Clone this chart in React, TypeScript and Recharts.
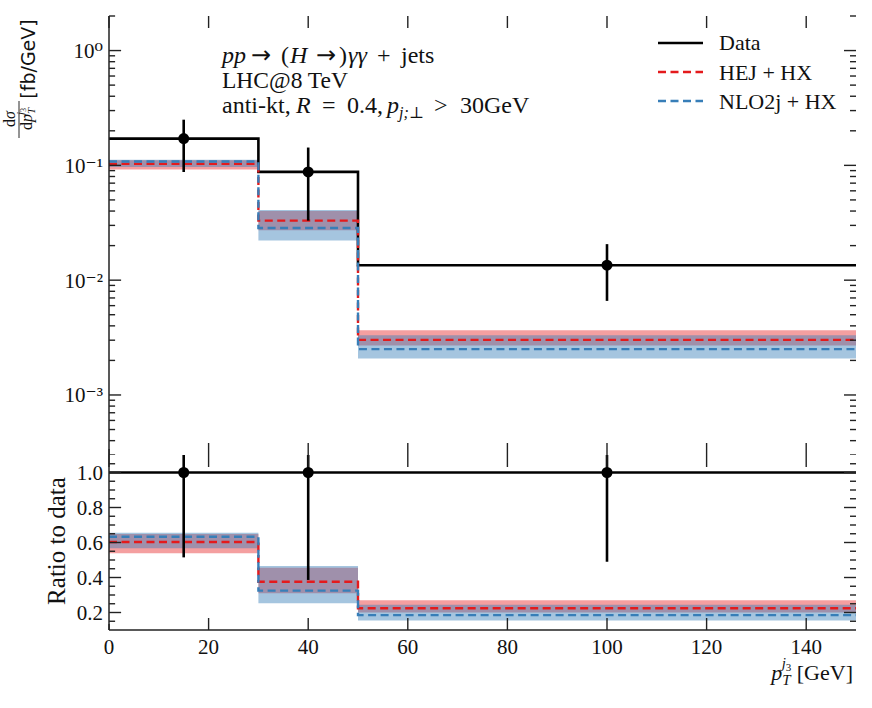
import React from 'react'
import { ComposedChart, Line, Area, Scatter, ErrorBar, XAxis, YAxis } from 'recharts'

// bin edges and centres (GeV)
const binEdges = [0, 30, 50, 150]
const binCentres = [15, 40, 100]

// measured cross section (fb/GeV) with error bar limits
const dataXs = [0.171, 0.0877, 0.0135]
const dataHi = [0.25, 0.143, 0.0206]
const dataLo = [0.0875, 0.033, 0.0066]

// HEJ + HX prediction and scale band
const hejXs = [0.103, 0.033, 0.00302]
const hejLo = [0.092, 0.0272, 0.0027]
const hejHi = [0.111, 0.04, 0.00367]

// NLO2j + HX prediction and scale band
const nloXs = [0.108, 0.0285, 0.00251]
const nloLo = [0.097, 0.0222, 0.00208]
const nloHi = [0.112, 0.0409, 0.00331]

// ratio panel
const dataRatio = [1, 1, 1]
const dataRatioLo = [0.515, 0.386, 0.49]
const dataRatioHi = [1.46, 1.63, 1.53]
const hejRatio = [0.603, 0.376, 0.224]
const hejRatioLo = [0.538, 0.31, 0.2]
const hejRatioHi = [0.648, 0.456, 0.27]
const nloRatio = [0.633, 0.325, 0.185]
const nloRatioLo = [0.567, 0.253, 0.154]
const nloRatioHi = [0.656, 0.466, 0.245]

// ticks
const xTicks = [0, 20, 40, 60, 80, 100, 120, 140]
const logMajor = [1e-3, 1e-2, 1e-1, 1]
const logMantissas = [2, 3, 4, 5, 6, 7, 8, 9]
const logDecades = [1e-4, 1e-3, 1e-2, 1e-1, 1]
const ratioMajor = [0.2, 0.4, 0.6, 0.8, 1.0]
const ratioMinor = [0.15, 0.25, 0.3, 0.35, 0.45, 0.5, 0.55, 0.65, 0.7, 0.75, 0.85, 0.9, 0.95, 1.05]

const RED = '#e41a1c'
const BLUE = '#377eb8'
const FRAME = '#222'
const SERIF = "'Liberation Serif', 'DejaVu Serif', serif"
const ARROW = "'DejaVu Sans', sans-serif"
const TM = 6
const MAJOR = 12
const MINOR = 6
const X_MIN = 0
const X_MAX = 150

const logDomain: [number, number] = [3e-4, 2]
const ratioDomain: [number, number] = [0.1, 1.1]
const logMinor = logDecades.flatMap(d => logMantissas.map(m => m * d)).filter(v => v >= logDomain[0] && v <= logDomain[1])

function stepRows(c: number[], h: number[], hLo: number[], hHi: number[], n: number[], nLo: number[], nHi: number[]) {
  return binEdges.map((x, i) => {
    const k = Math.min(i, c.length - 1)
    return {
      x,
      data: c[k],
      hej: h[k],
      hejBand: [hLo[k], hHi[k]],
      nlo: n[k],
      nloBand: [nLo[k], nHi[k]],
    }
  })
}

const topRows = stepRows(dataXs, hejXs, hejLo, hejHi, nloXs, nloLo, nloHi)
const ratioRows = stepRows(dataRatio, hejRatio, hejRatioLo, hejRatioHi, nloRatio, nloRatioLo, nloRatioHi)

const topPoints = binCentres.map((x, i) => ({ x, y: dataXs[i], err: [dataXs[i] - dataLo[i], dataHi[i] - dataXs[i]] }))
const ratioPoints = binCentres.map((x, i) => ({ x, y: dataRatio[i], err: [dataRatio[i] - dataRatioLo[i], dataRatioHi[i] - dataRatio[i]] }))

const isIn = (arr: number[], v: number) => arr.some(m => Math.abs(m - v) <= 1e-6 * Math.abs(m))

// matplotlib-style inward tick marks, placed through the chart scales.
// Marks sit a hair inside the plot box so they are not lost under the frame.
type Side = 'left' | 'right' | 'top' | 'bottom'
const tickShape = (side: Side, majors: number[]) => (p: any) => {
  const v = side === 'left' || side === 'right' ? p.payload.y : p.payload.x
  const len = isIn(majors, v) ? MAJOR : MINOR
  const cx = Number(p.cx)
  const cy = Number(p.cy)
  let x1 = cx, y1 = cy, x2 = cx, y2 = cy
  if (side === 'left') x2 = cx + len
  else if (side === 'right') x2 = cx - len
  else if (side === 'top') y2 = cy + len
  else y2 = cy - len
  return <line x1={x1} y1={y1} x2={x2} y2={y2} stroke={FRAME} strokeWidth={1.4} />
}

const SUP: Record<string, string> = { '0': '\u2070', '1': '\u00b9', '2': '\u00b2', '3': '\u00b3', '-': '\u207b' }
const fmtLog = (v: number) => '10' + String(Math.round(Math.log10(v))).split('').map(c => SUP[c] ?? c).join('')
const fmtRatio = (v: number) => Number(v).toFixed(1)

const tickText = { fontFamily: SERIF, fontSize: 21, fill: '#111' }
const axisLine = { stroke: FRAME, strokeWidth: 1.5 }
const dash = '8 4.5'

function Panel({ rows, points, yDomain, yMajors, yMinors, log, bottomLabels, width, height, margin, bottomHeight }: any) {
  const yScale = log ? 'log' : 'linear'
  const yAll = [...yMajors, ...yMinors]
  const leftTicks = yAll.map((y: number) => ({ x: X_MIN + 0.02, y }))
  const rightTicks = yAll.map((y: number) => ({ x: X_MAX, y }))
  const bottomTicks = xTicks.map(x => ({ x: x === 0 ? 0.02 : x, y: yDomain[0] }))
  const topTicks = xTicks.map(x => ({ x, y: yDomain[1] }))
  const xCommon = { dataKey: 'x', type: 'number' as const, domain: [X_MIN, X_MAX], ticks: xTicks, interval: 0, stroke: FRAME }
  const yCommon = { type: 'number' as const, scale: yScale, domain: yDomain, interval: 0, stroke: FRAME }
  return (
    <ComposedChart width={width} height={height} margin={margin} data={rows}>
      <XAxis xAxisId="b" {...xCommon} allowDataOverflow orientation="bottom" height={bottomHeight}
        tickSize={0} tickMargin={TM + 3} tickLine={false} axisLine={axisLine} tick={bottomLabels ? tickText : false} />
      <XAxis xAxisId="t" {...xCommon} allowDataOverflow orientation="top" height={0} tickLine={false} axisLine={axisLine} tick={false} />
      <YAxis yAxisId="l" {...yCommon} allowDataOverflow ticks={yMajors} orientation="left" width={109}
        tickSize={0} tickMargin={TM} tickLine={false} axisLine={axisLine}
        tick={tickText} tickFormatter={log ? fmtLog : fmtRatio} />
      <YAxis yAxisId="r" {...yCommon} allowDataOverflow ticks={yMajors} orientation="right" width={0} tickLine={false} axisLine={axisLine} tick={false} />
      <XAxis xAxisId="tx" {...xCommon} hide />
      <YAxis yAxisId="ty" {...yCommon} ticks={yMajors} hide />

      <Area xAxisId="b" yAxisId="l" dataKey="hejBand" type="stepAfter" stroke="none" fill={RED} fillOpacity={0.42} isAnimationActive={false} />
      <Area xAxisId="b" yAxisId="l" dataKey="nloBand" type="stepAfter" stroke="none" fill={BLUE} fillOpacity={0.45} isAnimationActive={false} />
      <Line xAxisId="b" yAxisId="l" dataKey="data" type="stepAfter" stroke="#000" strokeWidth={2.6} dot={false} isAnimationActive={false} />
      <Line xAxisId="b" yAxisId="l" dataKey="hej" type="stepAfter" stroke={RED} strokeWidth={2.4} strokeDasharray={dash} dot={false} isAnimationActive={false} />
      <Line xAxisId="b" yAxisId="l" dataKey="nlo" type="stepAfter" stroke={BLUE} strokeWidth={2.4} strokeDasharray={dash} dot={false} isAnimationActive={false} />
      <Scatter xAxisId="b" yAxisId="l" data={points} dataKey="y" isAnimationActive={false}
        shape={(p: any) => <circle cx={p.cx} cy={p.cy} r={5.5} fill="#000" />}>
        <ErrorBar dataKey="err" direction="y" width={0} stroke="#000" strokeWidth={2.6} />
      </Scatter>

      {/* tick marks on all four sides */}
      <Scatter xAxisId="tx" yAxisId="ty" data={leftTicks} dataKey="y" isAnimationActive={false} shape={tickShape('left', yMajors)} />
      <Scatter xAxisId="tx" yAxisId="ty" data={rightTicks} dataKey="y" isAnimationActive={false} shape={tickShape('right', yMajors)} />
      <Scatter xAxisId="tx" yAxisId="ty" data={topTicks} dataKey="y" isAnimationActive={false} shape={tickShape('top', xTicks)} />
      <Scatter xAxisId="tx" yAxisId="ty" data={bottomTicks} dataKey="y" isAnimationActive={false} shape={tickShape('bottom', xTicks)} />
    </ComposedChart>
  )
}

export default function App() {
  return (
    <div style={{ position: 'absolute', left: 0, top: 0, width: 872, height: 708, background: '#fff' }}>
      <div style={{ position: 'absolute', left: 0, top: 0 }}>
        <Panel rows={topRows} points={topPoints} yDomain={logDomain} yMajors={logMajor} yMinors={logMinor} log
          width={872} height={455} margin={{ top: 16, right: 16, bottom: 0, left: 0 }} bottomHeight={0} />
      </div>
      <div style={{ position: 'absolute', left: 0, top: 455 }}>
        <Panel rows={ratioRows} points={ratioPoints} yDomain={ratioDomain} yMajors={ratioMajor} yMinors={ratioMinor}
          bottomLabels width={872} height={253} margin={{ top: 0, right: 16, bottom: 0, left: 0 }} bottomHeight={78} />
      </div>

      <svg width={872} height={708} style={{ position: 'absolute', left: 0, top: 0, pointerEvents: 'none' }}
        fontFamily={SERIF} fill="#111">
        {/* process annotation */}
        <text y={63} fontSize={24}>
          <tspan x={222} fontStyle="italic">pp</tspan>
          <tspan x={251} fontFamily={ARROW}>→</tspan>
          <tspan x={281}>(</tspan>
          <tspan x={290} fontStyle="italic">H</tspan>
          <tspan x={316} fontFamily={ARROW}>→</tspan>
          <tspan x={339}>)</tspan>
          <tspan x={348} fontStyle="italic">γγ</tspan>
          <tspan x={377}>+</tspan>
          <tspan x={401}>jets</tspan>
        </text>
        <text x={222} y={88} fontSize={23.5}>LHC@8 TeV</text>
        <text y={113} fontSize={24}>
          <tspan x={222}>anti-kt,</tspan>
          <tspan x={296} fontStyle="italic">R</tspan>
          <tspan x={322}>=</tspan>
          <tspan x={347}>0.4,</tspan>
          <tspan x={387} fontStyle="italic">p</tspan>
          <tspan dy={5} fontSize={16} fontStyle="italic">j;⊥</tspan>
          <tspan x={434} dy={-5}>&gt;</tspan>
          <tspan x={460}>30GeV</tspan>
        </text>

        {/* legend */}
        <line x1={658} x2={703} y1={43} y2={43} stroke="#000" strokeWidth={2.6} />
        <text x={719} y={50} fontSize={22}>Data</text>
        <line x1={658} x2={703} y1={72} y2={72} stroke={RED} strokeWidth={2.4} strokeDasharray={dash} />
        <text x={719} y={80} fontSize={22}>HEJ + HX</text>
        <line x1={658} x2={703} y1={101} y2={101} stroke={BLUE} strokeWidth={2.4} strokeDasharray={dash} />
        <text x={719} y={109} fontSize={22}>NLO2j + HX</text>

        {/* y label, top panel */}
        <g transform="rotate(-90)">
          <text x={-59} y={35} textAnchor="middle" fontFamily="'DejaVu Sans', sans-serif" fontSize={19}>[fb/GeV]</text>
          <text x={-119} y={15} textAnchor="middle" fontSize={16}>d<tspan fontStyle="italic">σ</tspan></text>
          <line x1={-101} x2={-138} y1={19} y2={19} stroke="#111" strokeWidth={0.9} />
          <text x={-119} y={32} textAnchor="middle" fontSize={16}>
            d<tspan fontStyle="italic">p</tspan>
            <tspan dy={3} fontSize={11} fontStyle="italic">T</tspan>
            <tspan dy={-11} dx={-7} fontSize={11} fontStyle="italic">j</tspan>
            <tspan dy={2} fontSize={8}>3</tspan>
          </text>
          <text x={-541} y={65} textAnchor="middle" fontSize={25}>Ratio to data</text>
        </g>

        {/* x label */}
        <text x={853} y={680} textAnchor="end" fontSize={22}>
          <tspan fontStyle="italic">p</tspan>
          <tspan dy={5} fontSize={15} fontStyle="italic">T</tspan>
          <tspan dy={-17} dx={-9} fontSize={15} fontStyle="italic">j</tspan>
          <tspan dy={3} fontSize={11}>3</tspan>
          <tspan dy={9}> [GeV]</tspan>
        </text>
      </svg>
    </div>
  )
}
